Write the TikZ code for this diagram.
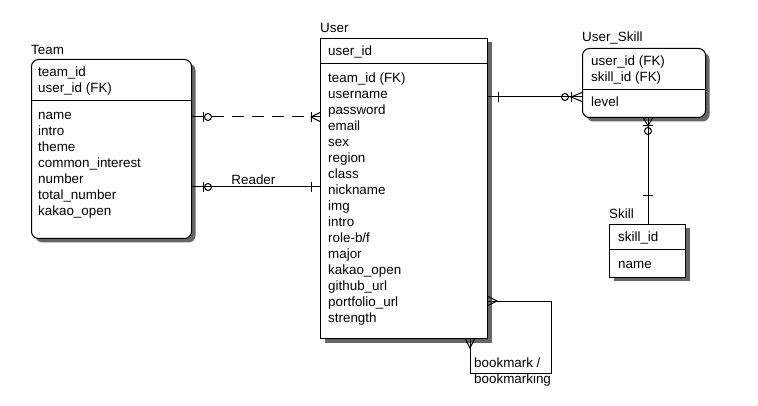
\documentclass[tikz,border=0pt]{standalone}
\usepackage{fontspec}
\setmainfont{Liberation Sans}
\usetikzlibrary{matrix}
\usetikzlibrary{positioning}
\usetikzlibrary{shadows}

\begin{document}
\begin{tikzpicture}[x=1pt,y=-1pt,font=\fontsize{13.4pt}{16pt}\selectfont]
\tikzset{entity/.style={
    draw, fill=white, anchor=north west, inner sep=0pt, line width=1pt,
    drop shadow={shadow xshift=4pt, shadow yshift=-4pt, fill=black!60, opacity=1}
  },
  title/.style={inner sep=0pt, anchor=base west},
  fields/.style={
    matrix of nodes, anchor=north west, inner sep=0pt,
    column sep=0pt, row sep=0pt,
    nodes={anchor=base west, inner xsep=0pt, inner ysep=1pt,
      text height=10pt, text depth=4pt}
  },
  link/.style={line width=1pt},
  bar/.pic={\draw[line width=1pt] (#1,-5) -- (#1,5);},
  ring/.pic={\draw[line width=1pt] (#1,0) circle (3.5pt);},
  crow/.pic={\draw[line width=1pt] (0,-4.5) -- (#1,0) -- (0,4.5);}
}
\useasboundingbox (0,0) rectangle (758,406);

% entities
\node[entity, rounded corners=7pt, minimum width=160pt, minimum height=179pt] (team) at (31,59) {};
\node[entity, minimum width=167pt, minimum height=300pt] (user) at (320,38) {};
\node[entity, rounded corners=7pt, minimum width=123pt, minimum height=69pt] (userskill) at (582,48) {};
\node[entity, minimum width=76pt, minimum height=53pt] (skill) at (609,224) {};

\node[title, above right=4pt and 0pt of team.north west, anchor=base west] (team-title) {Team};
\node[title, above right=5pt and 0pt of user.north west, anchor=base west] (user-title) {User};
\node[title, above right=6pt and 0pt of userskill.north west, anchor=base west] (userskill-title) {User\_Skill};
\node[title, above right=5pt and 0pt of skill.north west, anchor=base west] (skill-title) {Skill};

\draw[link] (team.north west) ++(0,42) -- ++(160,0);
\draw[link] (user.north west) ++(0,26) -- ++(167,0);
\draw[link] (userskill.north west) ++(0,42) -- ++(123,0);
\draw[link] (skill.north west) ++(0,26) -- ++(76,0);

\matrix[fields] (team-keys) at ([shift={(7pt,-6pt)}]team.north west) {
team\_id \\ user\_id (FK) \\};
\matrix[fields] (team-attrs) at ([shift={(7pt,-49pt)}]team.north west) {
name \\ intro \\ theme \\ common\_interest \\ number \\ total\_number \\ kakao\_open \\};

\matrix[fields] (user-keys) at ([shift={(8pt,-6pt)}]user.north west) {
user\_id \\};
\matrix[fields] (user-attrs) at ([shift={(8pt,-33pt)}]user.north west) {
team\_id (FK) \\ username \\ password \\ email \\ sex \\ region \\ class \\ nickname \\
img \\ intro \\ role-b/f \\ major \\ kakao\_open \\ github\_url \\ portfolio\_url \\ strength \\};

\matrix[fields] (userskill-keys) at ([shift={(9pt,-6pt)}]userskill.north west) {
user\_id (FK) \\ skill\_id (FK) \\};
\matrix[fields] (userskill-attrs) at ([shift={(9pt,-47pt)}]userskill.north west) {
level \\};

\matrix[fields] (skill-keys) at ([shift={(9pt,-6pt)}]skill.north west) {
skill\_id \\};
\matrix[fields] (skill-attrs) at ([shift={(9pt,-33pt)}]skill.north west) {
name \\};

% relationships
\coordinate (dash-row) at (0,117);
\coordinate (reader-row) at (0,187);
\coordinate (skill-row) at (0,97);
\coordinate (skill-col) at (648,0);
\coordinate (mark-row) at (0,301);
\coordinate (mark-col) at (470,0);
\coordinate (mark-corner) at (551,373);

\draw[link, dash pattern=on 12pt off 8pt] (team.east |- dash-row) -- (user.west |- dash-row);
\pic at (team.east |- dash-row) {bar=11};
\pic at (team.east |- dash-row) {ring=16};
\pic[rotate=180] at (user.west |- dash-row) {crow=9};
\pic[rotate=180] at (user.west |- dash-row) {bar=9};

\draw[link] (team.east |- reader-row) -- node[pos=0.48, above, inner sep=2pt] (reader) {Reader} (user.west |- reader-row);
\pic at (team.east |- reader-row) {bar=11};
\pic at (team.east |- reader-row) {ring=16};
\pic[rotate=180] at (user.west |- reader-row) {bar=9};

\draw[link] (user.east |- skill-row) -- (userskill.west |- skill-row);
\pic at (user.east |- skill-row) {bar=10};
\pic[rotate=180] at (userskill.west |- skill-row) {crow=11};
\pic[rotate=180] at (userskill.west |- skill-row) {bar=11};
\pic[rotate=180] at (userskill.west |- skill-row) {ring=17};

\draw[link] (userskill.south -| skill-col) -- (skill.north -| skill-col);
\pic[rotate=-90] at (userskill.south -| skill-col) {crow=8};
\pic[rotate=-90] at (userskill.south -| skill-col) {bar=8};
\pic[rotate=-90] at (userskill.south -| skill-col) {ring=13};
\pic[rotate=90] at (skill.north -| skill-col) {bar=28};

\draw[link] (user.east |- mark-row) -| (mark-corner) -| (user.south -| mark-col);
\pic at (user.east |- mark-row) {crow=9};
\pic[rotate=-90] at (user.south -| mark-col) {crow=9};
\matrix[fields] (mark-label) at (474,356) {bookmark / \\ bookmarking \\};
\end{tikzpicture}
\end{document}
